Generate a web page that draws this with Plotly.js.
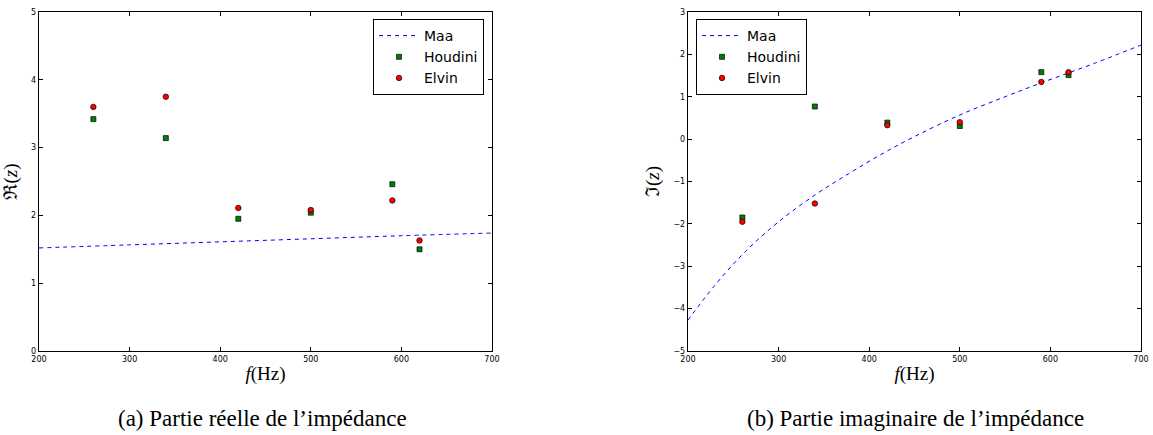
<!DOCTYPE html>
<html>
<head>
<meta charset="utf-8">
<script src="https://cdn.plot.ly/plotly-3.0.1.min.js"></script>
<style>
html,body{margin:0;padding:0;background:#fff;}
#chart{width:1153px;height:435px;}
</style>
</head>
<body>
<div id="chart"></div>
<script>
// Measured frequencies (Hz)
const freq = [260, 340, 420, 500, 590, 620];
// Real part of impedance
const reHoudini = [3.42, 3.14, 1.95, 2.04, 2.46, 1.50];
const reElvin   = [3.60, 3.75, 2.11, 2.08, 2.22, 1.63];
// Imaginary part of impedance
const imHoudini = [-1.85, 0.77, 0.39, 0.31, 1.58, 1.51];
const imElvin   = [-1.95, -1.52, 0.33, 0.40, 1.35, 1.58];
// Maa model curves
const maaReFreq = [200, 300, 400, 500, 600, 700];
const maaRe     = [1.52, 1.565, 1.61, 1.655, 1.70, 1.74];
const maaImFreq = [200, 230, 263, 300, 340, 377, 414, 450, 500, 550, 589, 650, 700];
const maaIm     = [-4.27, -3.44, -2.66, -1.95, -1.32, -0.82, -0.35, 0.06, 0.57, 1.00, 1.32, 1.80, 2.22];
// Texts
const seriesNames = ['Maa', 'Houdini', 'Elvin'];
const xTitle = '<i>f</i>(Hz)';
const yTitleRe = 'ℜ(<i>z</i>)';
const yTitleIm = 'ℑ(<i>z</i>)';
const captionA = '(a) Partie réelle de l’impédance';
const captionB = '(b) Partie imaginaire de l’impédance';

const W = 1153, H = 435;
const blue = '#0000ff', green = '#008000', red = '#ff0000';
const sq = {symbol: 'square', size: 5, color: green, line: {color: '#000', width: 0.7}};
const ci = {symbol: 'circle', size: 5.5, color: red, line: {color: '#000', width: 0.7}};
const dash = {color: blue, width: 1, dash: '4px,4px', shape: 'spline'};

const traces = [
  {x: maaReFreq, y: maaRe, mode: 'lines', line: dash, name: seriesNames[0], xaxis: 'x', yaxis: 'y', legend: 'legend'},
  {x: freq, y: reHoudini, mode: 'markers', marker: sq, name: seriesNames[1], xaxis: 'x', yaxis: 'y', legend: 'legend'},
  {x: freq, y: reElvin, mode: 'markers', marker: ci, name: seriesNames[2], xaxis: 'x', yaxis: 'y', legend: 'legend'},
  {x: maaImFreq, y: maaIm, mode: 'lines', line: dash, name: seriesNames[0], xaxis: 'x2', yaxis: 'y2', legend: 'legend2'},
  {x: freq, y: imHoudini, mode: 'markers', marker: sq, name: seriesNames[1], xaxis: 'x2', yaxis: 'y2', legend: 'legend2'},
  {x: freq, y: imElvin, mode: 'markers', marker: ci, name: seriesNames[2], xaxis: 'x2', yaxis: 'y2', legend: 'legend2'}
];

const tickFont = {family: 'DejaVu Sans', size: 8, color: '#000'};
const serif = 'Liberation Serif, DejaVu Serif, serif';
function xax(domain, anchor) {
  return {domain: domain, anchor: anchor, range: [200, 700], dtick: 100, tick0: 200,
    showgrid: false, zeroline: false, showline: true, linecolor: '#000', linewidth: 1.2,
    mirror: 'allticks', ticks: 'inside', ticklen: 4, tickcolor: '#000', tickwidth: 1,
    tickfont: tickFont, fixedrange: true,
    title: {text: xTitle, font: {family: serif, size: 19, color: '#000'}, standoff: 4}};
}
function yax(domain, anchor, range, title) {
  return {domain: domain, anchor: anchor, range: range, dtick: 1,
    showgrid: false, zeroline: false, showline: true, linecolor: '#000', linewidth: 1.2,
    mirror: 'allticks', ticks: 'inside', ticklen: 4, tickcolor: '#000', tickwidth: 1,
    tickfont: tickFont, fixedrange: true,
    title: {text: title, font: {family: serif, size: 19, color: '#000'}, standoff: 8}};
}
const yDom = [1 - 351 / H, 1 - 12 / H];
const legendCommon = {bgcolor: '#fff', bordercolor: '#000', borderwidth: 1,
  font: {family: 'DejaVu Sans', size: 14, color: '#000'}, yanchor: 'top', y: 1 - 19 / H,
  itemwidth: 40, tracegroupgap: 0};

const layout = {
  width: W, height: H,
  margin: {l: 0, r: 0, t: 0, b: 0},
  paper_bgcolor: '#fff', plot_bgcolor: '#fff',
  showlegend: true,
  xaxis: xax([39 / W, 492 / W], 'y'),
  yaxis: yax(yDom, 'x', [0, 5], yTitleRe),
  xaxis2: xax([688 / W, 1141 / W], 'y2'),
  yaxis2: yax(yDom, 'x2', [-5, 3], yTitleIm),
  legend: Object.assign({}, legendCommon, {x: 484 / W, xanchor: 'right'}),
  legend2: Object.assign({}, legendCommon, {x: 696 / W, xanchor: 'left'}),
  annotations: [
    {text: captionA, xref: 'paper', yref: 'paper', x: 262 / W, y: 1 - 418 / H, showarrow: false,
     xanchor: 'center', yanchor: 'middle', font: {family: serif, size: 23, color: '#000'}},
    {text: captionB, xref: 'paper', yref: 'paper', x: 915 / W, y: 1 - 418 / H, showarrow: false,
     xanchor: 'center', yanchor: 'middle', font: {family: serif, size: 23, color: '#000'}}
  ]
};

Plotly.newPlot('chart', traces, layout, {displayModeBar: false, staticPlot: true});
</script>
</body>
</html>
